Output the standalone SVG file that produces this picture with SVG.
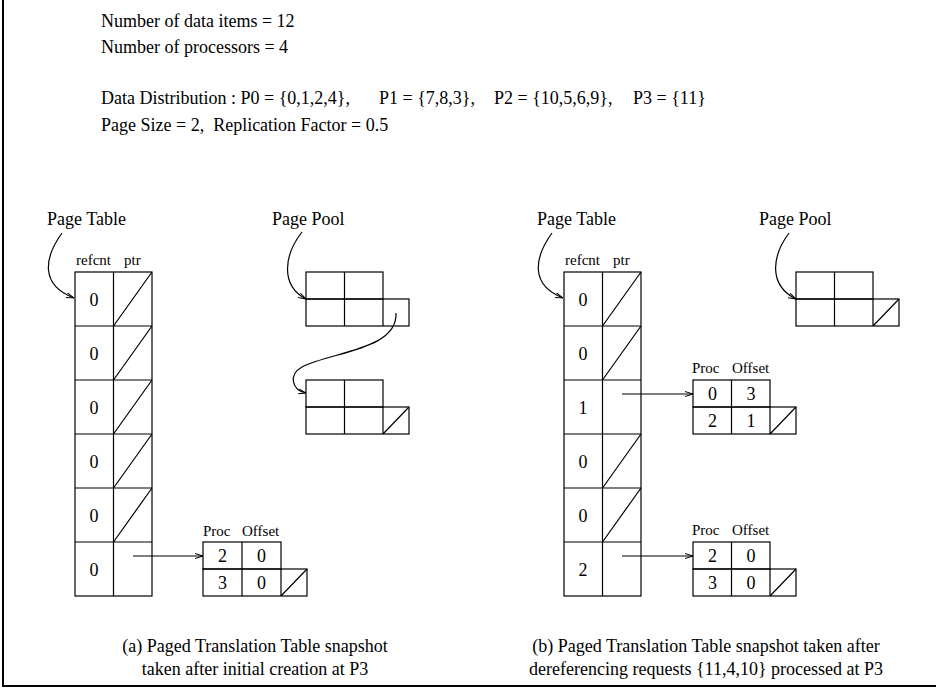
<svg xmlns="http://www.w3.org/2000/svg" width="938" height="689" viewBox="0 0 938 689">
<style>
.t{font-family:"Liberation Serif","Times New Roman",serif;font-size:18px;fill:#000}
.s{font-size:15px}
.m{text-anchor:middle}
.c{stroke:#000;stroke-width:1.2;fill:none}
.a{stroke:#000;stroke-width:1.2;fill:none;marker-end:url(#ah)}
.f{stroke:#000;stroke-width:2;fill:none}
</style>
<defs>
<marker id="ah" viewBox="0 0 8 6" refX="8" refY="3" markerWidth="8" markerHeight="6" markerUnits="userSpaceOnUse" orient="auto">
<path d="M0,0.5 L8,3 L0,5.5" fill="none" stroke="#000" stroke-width="1"/>
</marker>
</defs>
<rect width="938" height="689" fill="#fff"/>
<g id="frame"><path class="f" d="M3,0 V686 H936"/></g>

<g id="header">
<text class="t" x="101" y="27">Number of data items = 12</text>
<text class="t" x="101" y="53">Number of processors = 4</text>
<text class="t" x="101" y="104">Data Distribution : P0 = {0,1,2,4},</text>
<text class="t" x="379" y="104">P1 = {7,8,3},</text>
<text class="t" x="494" y="104">P2 = {10,5,6,9},</text>
<text class="t" x="633" y="104">P3 = {11}</text>
<text class="t" x="101" y="131" xml:space="preserve">Page Size = 2,  Replication Factor = 0.5</text>
</g>

<!-- (a) -->
<g id="a-pagetable-label"><text class="t" x="47" y="225">Page Table</text></g>
<g id="a-pagetable">
<text class="t s" x="76" y="265">refcnt</text>
<text class="t s" x="124" y="265">ptr</text>
<rect class="c" x="75" y="272" width="77" height="324"/>
<path class="c" d="M113.5,272 V596 M75,326 H152 M75,380 H152 M75,434 H152 M75,488 H152 M75,542 H152"/>
<path class="c" d="M113.5,326 L152,272 M113.5,380 L152,326 M113.5,434 L152,380 M113.5,488 L152,434 M113.5,542 L152,488"/>
<text class="t m" x="94" y="306">0</text>
<text class="t m" x="94" y="360">0</text>
<text class="t m" x="94" y="414">0</text>
<text class="t m" x="94" y="468">0</text>
<text class="t m" x="94" y="522">0</text>
<text class="t m" x="94" y="576">0</text>
</g>
<g id="a-pagepool-label"><text class="t" x="272" y="225">Page Pool</text></g>
<g id="a-page1">
<rect class="c" x="306" y="272" width="77" height="27"/>
<rect class="c" x="306" y="299" width="103" height="27"/>
<path class="c" d="M344.5,272 V326 M383,299 V326"/>
</g>
<g id="a-page2">
<rect class="c" x="306" y="380" width="77" height="27"/>
<rect class="c" x="306" y="407" width="103" height="27"/>
<path class="c" d="M344.5,380 V434 M383,407 V434 M383,434 L409,407"/>
</g>
<g id="a-proc">
<text class="t s" x="203" y="536">Proc</text>
<text class="t s" x="242" y="536">Offset</text>
<rect class="c" x="203" y="542" width="78" height="27"/>
<rect class="c" x="203" y="569" width="104" height="27"/>
<path class="c" d="M242,542 V596 M281,569 V596 M281,596 L307,569"/>
<text class="t m" x="222.5" y="562">2</text>
<text class="t m" x="261.5" y="562">0</text>
<text class="t m" x="222.5" y="589">3</text>
<text class="t m" x="261.5" y="589">0</text>
</g>

<!-- (b) -->
<g id="b-pagetable-label"><text class="t" x="537" y="225">Page Table</text></g>
<g id="b-pagetable">
<text class="t s" x="565" y="265">refcnt</text>
<text class="t s" x="613" y="265">ptr</text>
<rect class="c" x="564" y="272" width="77" height="324"/>
<path class="c" d="M602.5,272 V596 M564,326 H641 M564,380 H641 M564,434 H641 M564,488 H641 M564,542 H641"/>
<path class="c" d="M602.5,326 L641,272 M602.5,380 L641,326 M602.5,488 L641,434 M602.5,542 L641,488"/>
<text class="t m" x="583" y="306">0</text>
<text class="t m" x="583" y="360">0</text>
<text class="t m" x="583" y="414">1</text>
<text class="t m" x="583" y="468">0</text>
<text class="t m" x="583" y="522">0</text>
<text class="t m" x="583" y="576">2</text>
</g>
<g id="b-pagepool-label"><text class="t" x="759" y="225">Page Pool</text></g>
<g id="b-page1">
<rect class="c" x="796" y="272" width="77" height="27"/>
<rect class="c" x="796" y="299" width="103" height="27"/>
<path class="c" d="M834.5,272 V326 M873,299 V326 M873,326 L899,299"/>
</g>
<g id="b-proc1">
<text class="t s" x="692" y="373">Proc</text>
<text class="t s" x="732" y="373">Offset</text>
<rect class="c" x="693" y="380" width="77" height="27"/>
<rect class="c" x="693" y="407" width="103" height="27"/>
<path class="c" d="M731.5,380 V434 M770,407 V434 M770,434 L796,407"/>
<text class="t m" x="712.5" y="400">0</text>
<text class="t m" x="751" y="400">3</text>
<text class="t m" x="712.5" y="427">2</text>
<text class="t m" x="751" y="427">1</text>
</g>
<g id="b-proc2">
<text class="t s" x="692" y="535">Proc</text>
<text class="t s" x="732" y="535">Offset</text>
<rect class="c" x="693" y="542" width="77" height="27"/>
<rect class="c" x="693" y="569" width="103" height="27"/>
<path class="c" d="M731.5,542 V596 M770,569 V596 M770,596 L796,569"/>
<text class="t m" x="712.5" y="562">2</text>
<text class="t m" x="751" y="562">0</text>
<text class="t m" x="712.5" y="589">3</text>
<text class="t m" x="751" y="589">0</text>
</g>

<g id="connectors">
<path class="a" d="M62,233 C44,258 40,285 74,298"/>
<path class="a" d="M302,232 C284,255 280,285 306,299"/>
<path class="a" d="M396,313 C398,350 330,352 302,367 C288,375 292,390 306,393"/>
<path class="a" d="M133,556 H203"/>
<path class="a" d="M552,233 C534,258 530,285 563,298"/>
<path class="a" d="M789,233 C772,256 768,285 796,299"/>
<path class="a" d="M622,394 H693"/>
<path class="a" d="M622,556 H693"/>
</g>

<g id="captions">
<text class="t m" x="255" y="652">(a) Paged Translation Table snapshot</text>
<text class="t m" x="255" y="675">taken after initial creation at P3</text>
<text class="t m" x="706" y="652">(b) Paged Translation Table snapshot taken after</text>
<text class="t m" x="706" y="675">dereferencing requests {11,4,10} processed at P3</text>
</g>
</svg>
